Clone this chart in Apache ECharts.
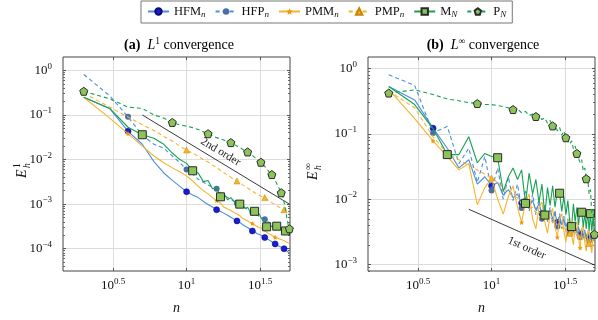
<!DOCTYPE html>
<html>
<head>
<meta charset="utf-8">
<script src="https://cdn.jsdelivr.net/npm/echarts@6/dist/echarts.min.js"></script>
<style>
  html, body { margin: 0; background: #fff; }
  #chart { width: 598px; height: 320px; }
</style>
</head>
<body>
<div id="chart"></div>
<script>
const FONT = 'Liberation Serif'

// mesh sizes n
const nVals = [2, 3, 4, 5, 6, 7, 8, 9, 10, 11, 12, 13, 14, 15, 16, 17, 18, 19, 20, 21,
  22, 23, 24, 25, 26, 27, 28, 29, 30, 31, 32, 33, 34, 35, 36, 37, 38, 39, 40, 41,
  42, 43, 44, 45, 46, 47, 48, 49, 50]

// (a) L1 errors
const l1HFM = [0.25, 0.14, 0.043, 0.022, 0.0090, 0.0050, 0.0034, 0.0025, 0.0019, 0.0016,
  0.0014, 0.00115, 0.00098, 0.00086, 0.00075, 0.00068, 0.00062, 0.00056, 0.00051, 0.00046,
  0.00042, 0.00039, 0.00035, 0.00032, 0.00030, 0.00027, 0.00025, 0.00024, 0.00022, 0.00021,
  0.00020, 0.00019, 0.000178, 0.000168, 0.000160, 0.000150, 0.000143, 0.000135, 0.000128, 0.000122,
  0.000117, 0.000112, 0.000108, 0.000104, 0.000100, 0.000095, 0.000090, 0.000085, 0.000079]
const l1HFP = [0.81, 0.27, 0.091, 0.035, 0.022, 0.018, 0.012, 0.0085, 0.0060, 0.0047,
  0.0036, 0.0031, 0.0027, 0.0024, 0.0022, 0.0018, 0.0016, 0.0014, 0.0013, 0.00115,
  0.00105, 0.00098, 0.00090, 0.00082, 0.00076, 0.00070, 0.00065, 0.00060, 0.00057, 0.00053,
  0.00050, 0.00048, 0.00046, 0.00042, 0.00040, 0.00038, 0.00036, 0.00034, 0.00032, 0.00030,
  0.00029, 0.00028, 0.00027, 0.00026, 0.00025, 0.00024, 0.00023, 0.00022, 0.00021]
const l1PMM = [0.25, 0.085, 0.038, 0.020, 0.012, 0.0085, 0.0065, 0.0053, 0.0043, 0.0033,
  0.0025, 0.0020, 0.0017, 0.0014, 0.0012, 0.00105, 0.00085, 0.00078, 0.00072, 0.00065,
  0.00060, 0.00055, 0.00048, 0.00045, 0.00042, 0.00039, 0.00037, 0.00034, 0.00032, 0.00030,
  0.00029, 0.00027, 0.00025, 0.00024, 0.00022, 0.00021, 0.00020, 0.00019, 0.00018, 0.00017,
  0.00017, 0.00016, 0.00016, 0.00015, 0.00015, 0.00014, 0.00014, 0.000135, 0.00013]
const l1PMP = [0.31, 0.15, 0.090, 0.060, 0.045, 0.033, 0.026, 0.020, 0.0163, 0.0140,
  0.0118, 0.0100, 0.0088, 0.0075, 0.0066, 0.0057, 0.0050, 0.0045, 0.0040, 0.0036,
  0.0033, 0.0030, 0.0027, 0.0025, 0.0023, 0.0021, 0.0020, 0.0018, 0.0017, 0.0016,
  0.0015, 0.00145, 0.0014, 0.0013, 0.00122, 0.00115, 0.00108, 0.00102, 0.00097, 0.00092,
  0.00088, 0.00084, 0.0008, 0.00077, 0.00075, 0.00072, 0.00068, 0.00064, 0.0006]
const l1MN = [0.25, 0.14, 0.053, 0.036, 0.030, 0.022, 0.014, 0.0100, 0.0082, 0.0056,
  0.0050, 0.0032, 0.0034, 0.0022, 0.0024, 0.00146, 0.0017, 0.00125, 0.0014, 0.00115,
  0.00120, 0.00100, 0.00095, 0.00080, 0.00085, 0.00068, 0.00075, 0.00069, 0.00058, 0.00062,
  0.00050, 0.00052, 0.00040, 0.00031, 0.00038, 0.00033, 0.00036, 0.00030, 0.00034, 0.00032,
  0.00029, 0.00031, 0.00027, 0.00029, 0.00025, 0.00025, 0.00027, 0.00023, 0.00022]
const l1PN = [0.34, 0.23, 0.15, 0.14, 0.10, 0.085, 0.068, 0.060, 0.056, 0.052,
  0.047, 0.042, 0.038, 0.034, 0.031, 0.029, 0.027, 0.025, 0.024, 0.022,
  0.020, 0.019, 0.017, 0.016, 0.0148, 0.0135, 0.0125, 0.0112, 0.0102, 0.0094,
  0.0087, 0.0078, 0.0070, 0.0062, 0.0056, 0.0050, 0.0046, 0.0040, 0.0034, 0.0029,
  0.0025, 0.0021, 0.0018, 0.0015, 0.0011, 0.0008, 0.0005, 0.00035, 0.00028]

// (b) Linf errors
const liHFM = [0.53, 0.33, 0.122, 0.060, 0.030, 0.040, 0.017, 0.022, 0.016, 0.018,
  0.0115, 0.014, 0.0105, 0.012, 0.0087, 0.0105, 0.0078, 0.0095, 0.0068, 0.0085,
  0.0060, 0.0075, 0.0055, 0.0068, 0.0050, 0.0060, 0.0044, 0.0055, 0.0040, 0.0050,
  0.0038, 0.0045, 0.0035, 0.0042, 0.0033, 0.0040, 0.0031, 0.0037, 0.0029, 0.0035,
  0.0027, 0.0033, 0.0026, 0.0031, 0.0025, 0.0030, 0.0024, 0.0028, 0.0023]
const liHFP = [0.80, 0.55, 0.103, 0.13, 0.035, 0.060, 0.018, 0.045, 0.0135, 0.030,
  0.010, 0.022, 0.0095, 0.017, 0.0073, 0.014, 0.0065, 0.012, 0.0058, 0.010,
  0.005, 0.0085, 0.0045, 0.0075, 0.0042, 0.0068, 0.0038, 0.006, 0.0035, 0.0055,
  0.0032, 0.005, 0.003, 0.0045, 0.0029, 0.0042, 0.0027, 0.0039, 0.0026, 0.0036,
  0.0025, 0.0034, 0.0024, 0.0032, 0.0023, 0.003, 0.0022, 0.0028, 0.0021]
const liPMM = [0.48, 0.17, 0.078, 0.045, 0.028, 0.035, 0.0082, 0.015, 0.021, 0.010,
  0.0059, 0.011, 0.016, 0.0075, 0.0044, 0.009, 0.012, 0.005, 0.0035, 0.0075,
  0.009, 0.0045, 0.003, 0.006, 0.0072, 0.0038, 0.0026, 0.005, 0.006, 0.0032,
  0.0022, 0.0045, 0.0052, 0.0028, 0.002, 0.004, 0.0045, 0.0025, 0.0018, 0.0035,
  0.004, 0.0022, 0.0016, 0.0032, 0.0035, 0.002, 0.0015, 0.003, 0.0028]
const liPMP = [0.45, 0.25, 0.09, 0.05, 0.040, 0.033, 0.028, 0.024, 0.021, 0.018,
  0.0145, 0.013, 0.011, 0.0105, 0.0085, 0.0088, 0.0072, 0.0075, 0.0062, 0.0065,
  0.0055, 0.0058, 0.0048, 0.0052, 0.0043, 0.0047, 0.0039, 0.0043, 0.0035, 0.0040,
  0.0032, 0.0037, 0.0030, 0.0034, 0.0028, 0.0032, 0.0026, 0.0030, 0.0025, 0.0028,
  0.0023, 0.0027, 0.0022, 0.0025, 0.0021, 0.0024, 0.0020, 0.0023, 0.0019]
const liMN = [0.53, 0.28, 0.12, 0.048, 0.048, 0.090, 0.036, 0.050, 0.045, 0.043,
  0.013, 0.022, 0.030, 0.020, 0.028, 0.0086, 0.025, 0.012, 0.020, 0.009,
  0.017, 0.0057, 0.015, 0.008, 0.016, 0.0075, 0.013, 0.0123, 0.0065, 0.011,
  0.0058, 0.0095, 0.0045, 0.0038, 0.0085, 0.0045, 0.0075, 0.004, 0.0068, 0.0063,
  0.0038, 0.006, 0.0035, 0.0065, 0.0033, 0.006, 0.0032, 0.0055, 0.003]
const liPN = [0.42, 0.47, 0.40, 0.34, 0.32, 0.30, 0.29, 0.28, 0.28, 0.27,
  0.26, 0.25, 0.235, 0.24, 0.21, 0.22, 0.19, 0.20, 0.184, 0.19,
  0.165, 0.175, 0.145, 0.16, 0.132, 0.14, 0.11, 0.125, 0.095, 0.11,
  0.087, 0.09, 0.07, 0.078, 0.058, 0.065, 0.05, 0.048, 0.036, 0.04,
  0.027, 0.03, 0.0205, 0.022, 0.012, 0.014, 0.006, 0.007, 0.0029]

// where markers are drawn (n values)
const markHF = [4, 10, 16, 22, 28, 34, 40, 46]
const markPMM = [4, 16, 28, 40]
const markPMP = [10, 22, 34, 46]
const markMN = [5, 11, 17, 23, 29, 35, 41, 47]
const markPN = [2, 8, 14, 20, 26, 32, 38, 44, 50]

// reference slopes
const ord2N = [5, 50]
const ord2E = [0.1, 0.001]
const ord1N = [7, 50]
const ord1E = [0.007, 0.00098]

// ticks (exponents of 10)
const xTicks = [0.5, 1, 1.5]
const yTicksL = [-4, -3, -2, -1, 0]
const yTicksR = [-3, -2, -1, 0]

const BLUE = '#4a8fdc'
const ORANGE = '#f6b42c'
const GREEN = '#17a152'
const PENTAGON = 'path://M0,-10L9.51,-3.09L5.88,8.09L-5.88,8.09L-9.51,-3.09Z'
const STAR = 'path://M0,-10L2.9,-4L9.5,-3.1L4.7,1.5L5.9,8.1L0,5L-5.9,8.1L-4.7,1.5L-9.5,-3.1L-2.9,-4Z'

const styles = {
  'HFM_n': {color: BLUE, dash: 'solid', symbol: 'circle', size: 6, fill: '#1b1bd6', border: '#0c0c70', bw: 0.6, marks: markHF},
  'HFP_n': {color: BLUE, dash: [4, 3], symbol: 'circle', size: 6, fill: '#4a6fa6', border: '#4a6fa6', bw: 0, marks: markHF},
  'PMM_n': {color: ORANGE, dash: 'solid', symbol: STAR, size: 5, fill: '#eb9a12', border: '#eb9a12', bw: 0, marks: markPMM},
  'PMP_n': {color: ORANGE, dash: [4, 3], symbol: 'triangle', size: 6, fill: '#f6b42c', border: '#c98600', bw: 0.5, marks: markPMP},
  'M_N': {color: GREEN, dash: 'solid', symbol: 'rect', size: 8, fill: '#8cc45a', border: '#2a2a2a', bw: 1, marks: markMN},
  'P_N': {color: GREEN, dash: [4, 3], symbol: PENTAGON, size: 8, fill: '#8cc45a', border: '#2a2a2a', bw: 1, marks: markPN}
}

const lg = Math.log10

// minor log ticks 2..9 in each decade
const minorTicks = (lo, hi) => {
  const out = []
  for (let e = lo; e < hi; e++) {
    for (let k = 2; k <= 9; k++) out.push(e + lg(k))
  }
  return out
}

const fmtExp = (v) => String(v).replace('-', '\u2212')
const powLabel = (v) => '{b|10}{s|' + fmtExp(v) + '}'

const labelRich = {
  b: {fontFamily: FONT, fontSize: 13, color: '#111', lineHeight: 17, verticalAlign: 'middle'},
  s: {fontFamily: FONT, fontSize: 9, color: '#111', lineHeight: 10, verticalAlign: 'top'}
}

const X_MIN = 0.16
const X_MAX = 1.703
const yRange = [[-4.5, 0.3], [-3.1, 0.175]]
const grids = [
  {left: 63, top: 57, width: 227, height: 226},
  {left: 368, top: 57, width: 227, height: 226}
]

const xAxes = []
const yAxes = []
grids.forEach((g, p) => {
  const ticks = p === 0 ? yTicksL : yTicksR
  const [ymin, ymax] = yRange[p]
  xAxes.push({
    type: 'value', gridIndex: p, min: X_MIN, max: X_MAX, position: 'bottom',
    axisLine: {show: false, onZero: false},
    axisTick: {show: true, inside: true, length: 3, customValues: xTicks, lineStyle: {color: '#555'}},
    axisLabel: {customValues: xTicks, formatter: powLabel, rich: labelRich, margin: 6},
    splitLine: {show: true, lineStyle: {color: '#dcdcdc', width: 1}},
    name: 'n', nameLocation: 'middle', nameGap: 30,
    nameTextStyle: {fontFamily: FONT, fontStyle: 'italic', fontSize: 14, color: '#111'}
  })
  xAxes.push({
    type: 'value', gridIndex: p, min: X_MIN, max: X_MAX, position: 'top',
    axisLine: {show: false, onZero: false}, axisLabel: {show: false}, splitLine: {show: false},
    axisTick: {show: true, inside: true, length: 3, customValues: xTicks, lineStyle: {color: '#555'}}
  })
  const minor = minorTicks(Math.floor(ymin), Math.ceil(ymax)).filter(v => v > ymin && v < ymax)
  const base = {type: 'value', gridIndex: p, min: ymin, max: ymax, axisLine: {show: false, onZero: false}, splitLine: {show: false}, axisLabel: {show: false}}
  yAxes.push({
    type: 'value', gridIndex: p, min: ymin, max: ymax, position: 'left',
    axisLine: {show: false, onZero: false},
    axisTick: {show: true, inside: true, length: 3, customValues: ticks, lineStyle: {color: '#555'}},
    axisLabel: {customValues: ticks, formatter: powLabel, rich: labelRich, margin: 11},
    splitLine: {show: true, lineStyle: {color: '#dcdcdc', width: 1}}
  })
  yAxes.push(Object.assign({}, base, {position: 'left', axisTick: {show: true, inside: true, length: 2, customValues: minor, lineStyle: {color: '#666'}}}))
  yAxes.push(Object.assign({}, base, {position: 'right', axisTick: {show: true, inside: true, length: 3, customValues: ticks, lineStyle: {color: '#555'}}}))
  yAxes.push(Object.assign({}, base, {position: 'right', axisTick: {show: true, inside: true, length: 2, customValues: minor, lineStyle: {color: '#666'}}}))
})

const makeSeries = (name, vals, p, z, ref) => {
  const st = styles[name]
  const s = {
    name, type: 'line', xAxisIndex: p * 2, yAxisIndex: p * 4, z,
    data: nVals.map((n, i) => [lg(n), lg(vals[i])]),
    symbol: st.symbol, showSymbol: true, showAllSymbol: true,
    symbolSize: (v, prm) => st.marks.indexOf(nVals[prm.dataIndex]) >= 0 ? st.size : 0,
    lineStyle: {color: st.color, width: 1.1, type: st.dash},
    itemStyle: {color: st.fill, borderColor: st.border, borderWidth: st.bw},
    emphasis: {disabled: true}
  }
  if (ref) {
    s.markLine = {
      silent: true, symbol: ['none', 'none'], animation: false,
      lineStyle: {color: '#222', width: 0.9, type: 'solid'},
      label: {show: true, position: ref.pos, formatter: ref.text, fontFamily: FONT, fontSize: 11.5, color: '#222', distance: ref.dist},
      data: [[{coord: [lg(ref.n[0]), lg(ref.e[0])]}, {coord: [lg(ref.n[1]), lg(ref.e[1])]}]]
    }
  }
  return s
}

const series = [
  makeSeries('HFM_n', l1HFM, 0, 2),
  makeSeries('HFP_n', l1HFP, 0, 3),
  makeSeries('PMM_n', l1PMM, 0, 4),
  makeSeries('PMP_n', l1PMP, 0, 5),
  makeSeries('M_N', l1MN, 0, 6),
  makeSeries('P_N', l1PN, 0, 7, {n: ord2N, e: ord2E, text: '2nd order', pos: 'insideMiddleTop', dist: 3}),
  makeSeries('HFM_n', liHFM, 1, 2),
  makeSeries('HFP_n', liHFP, 1, 3),
  makeSeries('PMM_n', liPMM, 1, 4),
  makeSeries('PMP_n', liPMP, 1, 5),
  makeSeries('M_N', liMN, 1, 6),
  makeSeries('P_N', liPN, 1, 7, {n: ord1N, e: ord1E, text: '1st order', pos: 'insideMiddleBottom', dist: 6})
]

const titleRich = {
  b: {fontFamily: FONT, fontSize: 14, fontWeight: 'bold', color: '#111', lineHeight: 17},
  i: {fontFamily: FONT, fontSize: 14, fontStyle: 'italic', color: '#111', lineHeight: 17},
  t: {fontFamily: FONT, fontSize: 14, color: '#111', lineHeight: 17},
  p: {fontFamily: FONT, fontSize: 9.5, color: '#111', lineHeight: 10, verticalAlign: 'top'}
}

const yName = (x, y, sup) => ({
  type: 'group', x, y, rotation: Math.PI / 2,
  children: [
    {type: 'text', x: -8, y: 0, style: {text: 'E', font: 'italic 14px "' + FONT + '"', fill: '#111', textVerticalAlign: 'middle'}},
    {type: 'text', x: 2, y: 5, style: {text: 'h', font: 'italic 9.5px "' + FONT + '"', fill: '#111', textVerticalAlign: 'middle'}},
    {type: 'text', x: 2, y: -5, style: {text: sup, font: '9.5px "' + FONT + '"', fill: '#111', textVerticalAlign: 'middle'}}
  ]
})

const chart = echarts.init(document.getElementById('chart'))
chart.setOption({
  animation: false,
  backgroundColor: '#fff',
  grid: grids.map(g => Object.assign({show: true, borderColor: '#444', borderWidth: 1, backgroundColor: 'transparent', containLabel: false}, g)),
  xAxis: xAxes,
  yAxis: yAxes,
  legend: {
    top: 1, left: 141,
    data: Object.keys(styles),
    itemWidth: 21, itemHeight: 8, itemGap: 9,
    padding: [4, 6], borderColor: '#777', borderWidth: 1,
    formatter: (name) => {
      const [a, b] = name.split('_')
      return '{t|' + a + '}{s|' + b + '}'
    },
    textStyle: {
      fontFamily: FONT, fontSize: 12.5, color: '#111',
      rich: {
        t: {fontFamily: FONT, fontSize: 12.5, color: '#111', lineHeight: 15, verticalAlign: 'middle'},
        s: {fontFamily: FONT, fontSize: 9, fontStyle: 'italic', color: '#111', lineHeight: 9, verticalAlign: 'bottom'}
      }
    }
  },
  graphic: [
    {type: 'text', x: 179, y: 45, style: {text: '{b|(a)}{t|  }{i|L}{p|1}{t| convergence}', rich: titleRich, textAlign: 'center', textVerticalAlign: 'middle'}},
    {type: 'text', x: 483, y: 45, style: {text: '{b|(b)}{t|  }{i|L}{p|\u221e}{t| convergence}', rich: titleRich, textAlign: 'center', textVerticalAlign: 'middle'}},
    yName(22, 170, '1'),
    yName(313, 172, '\u221e')
  ],
  series
})
</script>
</body>
</html>
